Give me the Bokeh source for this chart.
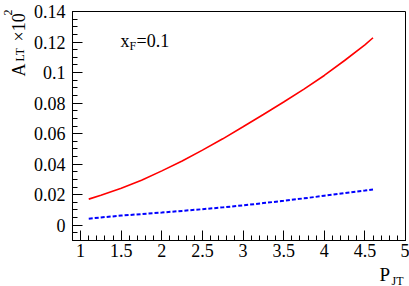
from bokeh.plotting import figure
from bokeh.models import (Range1d, SingleIntervalTicker, CustomJSTickFormatter, Label,
                          LinearAxis, BoxAnnotation)
from bokeh.embed import file_html
from bokeh.resources import INLINE
import math

# data
p_jt = [1.1, 1.25, 1.5, 1.75, 2.0, 2.25, 2.5, 2.75, 3.0, 3.25, 3.5, 3.75, 4.0, 4.25, 4.5, 4.6]
a_lt_red = [0.0171, 0.0197, 0.0243, 0.0294, 0.0356, 0.0421, 0.0492, 0.0566, 0.0645,
            0.0725, 0.0807, 0.0892, 0.0981, 0.1079, 0.1182, 0.1228]
a_lt_blue = [0.0043, 0.0051, 0.0063, 0.0073, 0.0083, 0.0094, 0.0105, 0.0117, 0.0130,
             0.0145, 0.0160, 0.0176, 0.0193, 0.0210, 0.0227, 0.0234]

x_lim = (0.9, 5.0)
y_lim = (-0.01, 0.14)
x_ticks_step, x_minor = 0.5, 5
y_ticks_step, y_minor = 0.02, 4

FONT = "Liberation Serif"

# canvas layout (pixels)
W, H = 409, 286
FL, FR, FT, FB = 72, 405, 11, 240  # frame box edges

sx = (FR - FL) / (x_lim[1] - x_lim[0])
sy = (FB - FT) / (y_lim[1] - y_lim[0])
xr = Range1d(x_lim[0] - FL / sx, x_lim[1] + (W - FR) / sx)
yr = Range1d(y_lim[0] - (H - FB) / sy, y_lim[1] + FT / sy)

p = figure(width=W, height=H, output_backend="svg", toolbar_location=None,
           x_range=xr, y_range=yr, x_axis_location=None, y_axis_location=None,
           min_border=0)
p.min_border_left = p.min_border_right = p.min_border_top = p.min_border_bottom = 0
p.background_fill_color = "white"
p.border_fill_color = "white"
p.outline_line_color = None
p.xgrid.visible = False
p.ygrid.visible = False

fmt = CustomJSTickFormatter(code="return String(parseFloat(tick.toFixed(4)));")

xa = LinearAxis(fixed_location=y_lim[0], bounds=x_lim,
                ticker=SingleIntervalTicker(interval=x_ticks_step, num_minor_ticks=x_minor),
                formatter=fmt)
ya = LinearAxis(fixed_location=x_lim[0], bounds=y_lim,
                ticker=SingleIntervalTicker(interval=y_ticks_step, num_minor_ticks=y_minor),
                formatter=fmt)
for ax in (xa, ya):
    ax.major_tick_in = 10
    ax.major_tick_out = 0
    ax.minor_tick_in = 5
    ax.minor_tick_out = 0
    ax.axis_line_color = "black"
    ax.major_tick_line_color = "black"
    ax.minor_tick_line_color = "black"
    ax.major_label_text_font = FONT
    ax.major_label_text_font_size = "18px"
    ax.major_label_text_color = "black"
xa.major_label_standoff = 3
ya.major_label_standoff = 7
p.add_layout(xa, "below")
p.add_layout(ya, "left")

p.add_layout(BoxAnnotation(left=x_lim[0], right=x_lim[1], bottom=y_lim[0], top=y_lim[1],
                           fill_alpha=0, line_color="black", line_alpha=1, line_width=1,
                           level="underlay"))

p.line(p_jt, a_lt_red, line_color="#ff0000", line_width=1.6)
p.line(p_jt, a_lt_blue, line_color="#0000ff", line_width=2, line_dash="4 2")

def lab(px, py, text, size, angle=0):
    # px, py: canvas pixels from top-left
    p.add_layout(Label(x=px, y=H - py, x_units="screen", y_units="screen", text=text,
                       text_font=FONT, text_font_size=size, text_color="black",
                       text_align="left", text_baseline="alphabetic", angle=angle))

# x_F = 0.1
lab(120, 40, "x", "18px")
lab(129, 45, "F", "12px")
lab(136, 40, "=0.1", "18px")

# x axis title P_JT
lab(379, 274, "P", "19px")
lab(391, 280, "JT", "12px")

# y axis title A_LT x10^2
r = math.pi / 2
lab(18, 76, "A", "18px", r)
lab(19, 61, "LT", "12px", r)
lab(18, 41, "\u00d710", "18px", r)
lab(7, 15, "2", "12px", r)

open("out.html", "w").write(file_html(p, INLINE))
